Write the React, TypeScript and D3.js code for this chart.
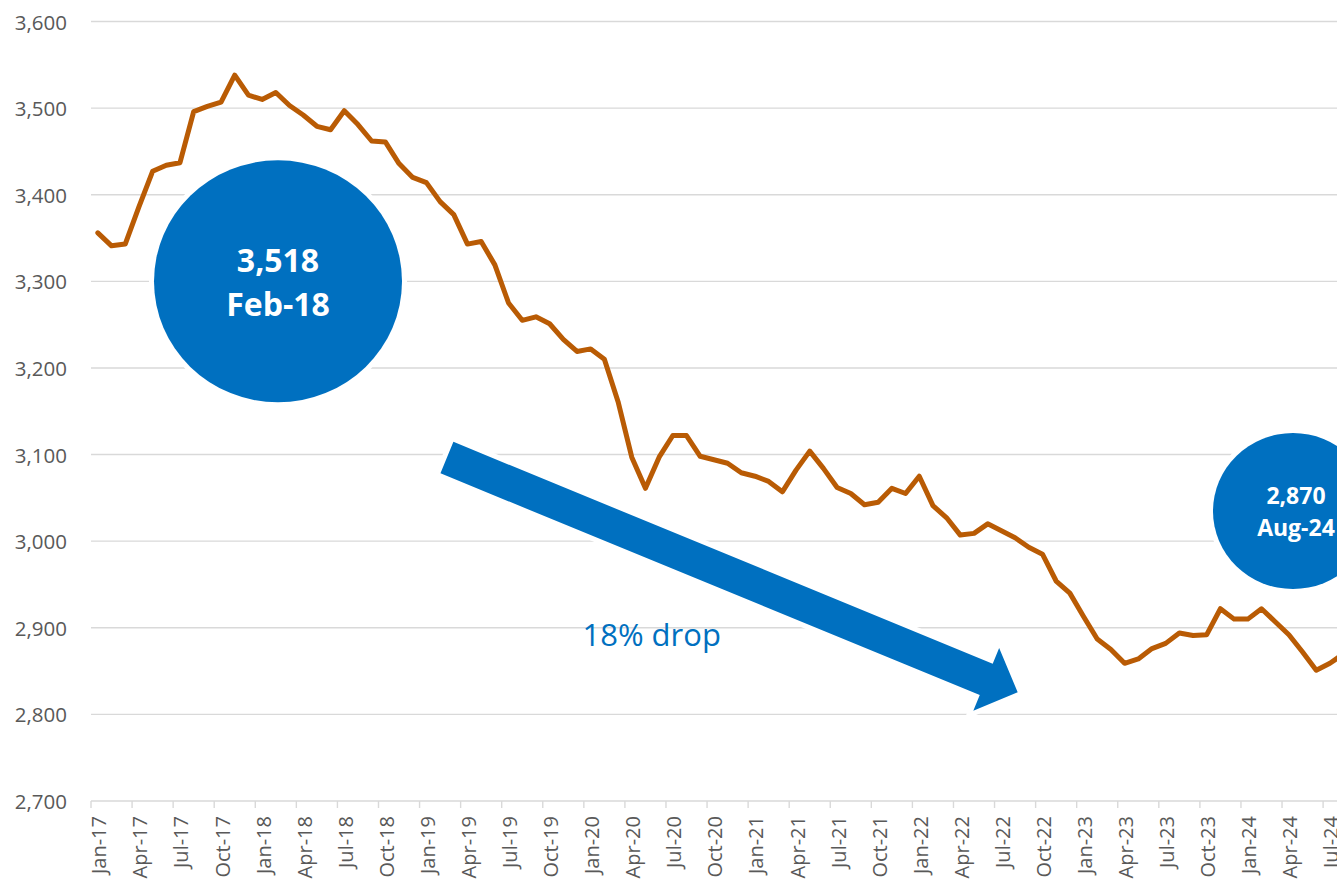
import React from "react";
import * as d3 from "d3";

const monthNames = ["Jan", "Feb", "Mar", "Apr", "May", "Jun", "Jul", "Aug", "Sep", "Oct", "Nov", "Dec"];
const years = ["17", "18", "19", "20", "21", "22", "23", "24"];

const values: number[] = [
  3356, 3341, 3343, 3386, 3427, 3434, 3437, 3496, 3502, 3507, 3538, 3515,
  3510, 3518, 3503, 3492, 3479, 3475, 3497, 3481, 3462, 3461, 3436, 3420,
  3414, 3392, 3377, 3343, 3346, 3319, 3275, 3255, 3259, 3251, 3233, 3219,
  3222, 3210, 3161, 3097, 3061, 3097, 3122, 3122, 3098, 3094, 3090, 3079,
  3075, 3069, 3057, 3082, 3104, 3084, 3062, 3055, 3042, 3045, 3061, 3055,
  3075, 3041, 3027, 3007, 3009, 3020, 3012, 3004, 2993, 2985, 2954, 2940,
  2913, 2887, 2875, 2859, 2864, 2876, 2882, 2894, 2891, 2892, 2922, 2910,
  2910, 2922, 2907, 2892, 2872, 2851, 2859, 2870,
];

const categories: string[] = values.map(
  (_, i) => `${monthNames[i % 12]}-${years[Math.floor(i / 12)]}`
);

const yTicks = [2700, 2800, 2900, 3000, 3100, 3200, 3300, 3400, 3500, 3600];

// annotations
const peakLabel = ["3,518", "Feb-18"];
const lastLabel = ["2,870", "Aug-24"];
const dropLabel = "18% drop";

const W = 1337;
const H = 881;
const LEFT = 91;
const STEP = 13.69;
const BLUE = "#0070C0";
const ORANGE = "#B95B04";
const GRID = "#D9D9D9";
const LABEL = "#595959";
const FONT = "'Open Sans', sans-serif";

export default function App() {
  const x = d3.scaleLinear().domain([0, values.length]).range([LEFT, LEFT + values.length * STEP]);
  const y = d3.scaleLinear().domain([2700, 3600]).range([801, 21.5]);

  const line = d3
    .line<number>()
    .x((_, i) => x(i + 0.5))
    .y((d) => y(d))
    .curve(d3.curveLinear);

  const tickIdx = d3.range(0, values.length, 3);

  // arrow (data-space endpoints)
  const a0 = [x(26.0), y(3096.5)];
  const a1 = [x(67.69), y(2825.5)];
  const dx = a1[0] - a0[0];
  const dy = a1[1] - a0[1];
  const len = Math.hypot(dx, dy);
  const ux = dx / len;
  const uy = dy / len;
  const px = -uy;
  const py = ux;
  const shaftHalf = 17;
  const headHalf = 34;
  const headLen = 34;
  const bx = a1[0] - ux * headLen;
  const by = a1[1] - uy * headLen;
  const arrowPts = [
    [a0[0] - px * shaftHalf, a0[1] - py * shaftHalf],
    [bx - px * shaftHalf, by - py * shaftHalf],
    [bx - px * headHalf, by - py * headHalf],
    [a1[0], a1[1]],
    [bx + px * headHalf, by + py * headHalf],
    [bx + px * shaftHalf, by + py * shaftHalf],
    [a0[0] + px * shaftHalf, a0[1] + py * shaftHalf],
  ];
  const arrowPath = "M" + arrowPts.map((p) => p.join(",")).join("L") + "Z";

  const c1 = { cx: x(13.66), cy: y(3300) };
  const c2 = { cx: x(87.8), cy: y(3034.7) };

  return (
    <svg
      width={W}
      height={H}
      style={{ position: "absolute", left: 0, top: 0, background: "#fff" }}
    >
      <rect x={0} y={0} width={W} height={H} fill="#fff" />
      {yTicks.map((t) => (
        <g key={t}>
          {t > 2700 && (
            <line x1={LEFT} x2={x(values.length)} y1={y(t)} y2={y(t)} stroke={GRID} strokeWidth={1.4} />
          )}
          <text
            x={67}
            y={y(t)}
            textAnchor="end"
            dominantBaseline="central"
            fontFamily={FONT}
            fontSize={20.5}
            fill={LABEL}
          >
            {d3.format(",")(t)}
          </text>
        </g>
      ))}
      {/* x axis */}
      <line x1={LEFT} x2={x(values.length)} y1={y(2700)} y2={y(2700)} stroke={GRID} strokeWidth={1.5} />
      {tickIdx.map((i) => (
        <g key={i}>
          <line x1={x(i)} x2={x(i)} y1={y(2700)} y2={y(2700) + 7} stroke={GRID} strokeWidth={1.4} />
          <text
            transform={`translate(${x(i + 0.5) + 1},${y(2700) + 15}) rotate(-90)`}
            textAnchor="end"
            dominantBaseline="central"
            fontFamily={FONT}
            fontSize={20}
            fill={LABEL}
          >
            {categories[i]}
          </text>
        </g>
      ))}
      {/* data line */}
      <path
        d={line(values) || ""}
        fill="none"
        stroke={ORANGE}
        strokeWidth={5}
        strokeLinejoin="round"
        strokeLinecap="round"
      />
      {/* arrow */}
      <path d={arrowPath} fill={BLUE} stroke="#fff" strokeWidth={10} style={{ paintOrder: "stroke" }} />
      <text
        x={x(35.9)}
        y={y(2878.9)}
        fontFamily={FONT}
        fontSize={31}
        fill={BLUE}
      >
        {dropLabel}
      </text>
      {/* peak circle */}
      <ellipse cx={c1.cx} cy={c1.cy} rx={124} ry={121} fill={BLUE} stroke="#fff" strokeWidth={10} style={{ paintOrder: "stroke" }} />
      <text x={c1.cx} y={y(3300) - 9.5} textAnchor="middle" fontFamily={FONT} fontWeight={700} fontSize={32} fill="#fff">
        {peakLabel[0]}
      </text>
      <text x={c1.cx} y={y(3300) + 34.5} textAnchor="middle" fontFamily={FONT} fontWeight={700} fontSize={32} fill="#fff">
        {peakLabel[1]}
      </text>
      {/* last circle */}
      <ellipse cx={c2.cx} cy={c2.cy} rx={80} ry={78} fill={BLUE} stroke="#fff" strokeWidth={10} style={{ paintOrder: "stroke" }} />
      <text x={c2.cx + 3} y={c2.cy - 7.5} textAnchor="middle" fontFamily={FONT} fontWeight={700} fontSize={23} fill="#fff">
        {lastLabel[0]}
      </text>
      <text x={c2.cx + 3} y={c2.cy + 24.5} textAnchor="middle" fontFamily={FONT} fontWeight={700} fontSize={23} fill="#fff">
        {lastLabel[1]}
      </text>
    </svg>
  );
}
